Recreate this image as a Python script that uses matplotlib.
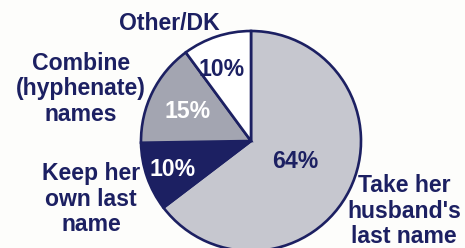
import matplotlib.pyplot as plt

# survey answers, clockwise from the top
labels = ["Take her\nhusband's\nlast name", "Keep her\nown last\nname",
          "Combine\n(hyphenate)\nnames", "Other/DK"]
values = [64, 10, 15, 10]
colors = ["#c6c7cf", "#1c2062", "#a3a5b1", "#ffffff"]
pct_colors = ["#1c2062", "white", "white", "#1c2062"]

navy = "#1c2062"
plt.rcParams['font.family'] = ['Liberation Sans', 'DejaVu Sans']

fig = plt.figure(figsize=(4.65, 2.48), dpi=100)
fig.patch.set_facecolor("#fdfdfb")
ax = fig.add_axes([0, 0, 1, 1])

# pie in pixel coordinates (y up)
wedges, _ = ax.pie(values, colors=colors, startangle=90, counterclock=False,
                   center=(251, 107), radius=110,
                   wedgeprops=dict(edgecolor=navy, linewidth=1.9))

# label positions (pixels)
lab_pos = [(404, 37), (91, 49), (81, 159), (169, 225)]
pct_pos = [(295, 86), (173, 78), (188, 136), (222, 178)]

for lab, (x, y) in zip(labels, lab_pos):
    ax.text(x, y, lab, ha="center", va="center", fontsize=16.6,
            fontweight="bold", color=navy, linespacing=1.12)

for v, c, (x, y) in zip(values, pct_colors, pct_pos):
    ax.text(x, y, f"{v}%", ha="center", va="center", fontsize=16.6,
            fontweight="bold", color=c)

ax.set_xlim(0, 465)
ax.set_ylim(0, 248)
ax.set_aspect("equal")
ax.axis("off")

fig.savefig("out.png", dpi=100, facecolor=fig.get_facecolor())
